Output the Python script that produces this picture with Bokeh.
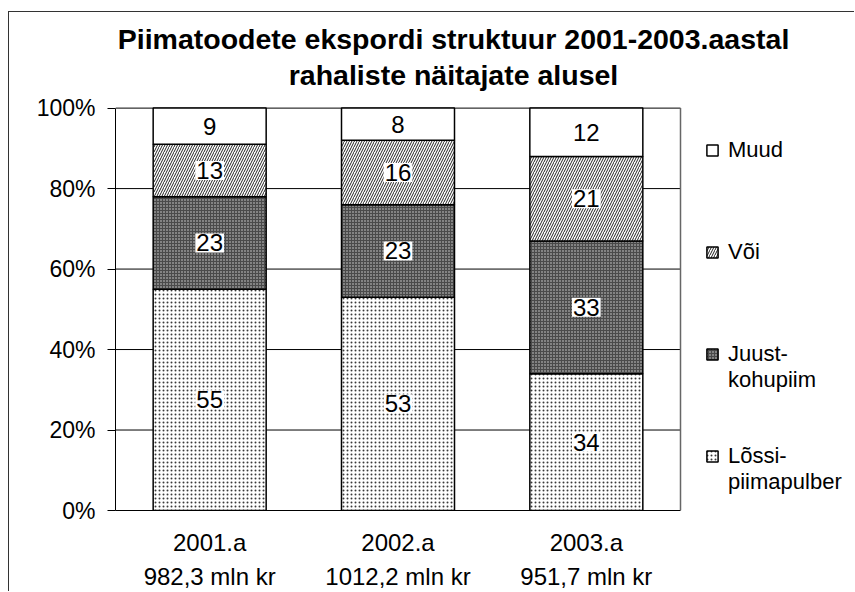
from bokeh.plotting import figure
from bokeh.models import (ColumnDataSource, Range1d, FixedTicker, PrintfTickFormatter,
                          Legend, LegendItem, Label, LinearAxis)
from bokeh.core.properties import value
from bokeh.embed import file_html
from bokeh.resources import INLINE

# ---- data ----
years = ["2001.a", "2002.a", "2003.a"]
totals = ["982,3 mln kr", "1012,2 mln kr", "951,7 mln kr"]
lossipiimapulber = [55, 53, 34]
juustkohupiim = [23, 23, 33]
voi = [13, 16, 21]
muud = [9, 8, 12]
series_labels = ["\nLõssi-\npiimapulber", "\nJuust-\nkohupiim", "Või", "Muud"]
y_ticks = [0, 20, 40, 60, 80, 100]
title_lines = ["Piimatoodete ekspordi struktuur 2001-2003.aastal",
               "rahaliste näitajate alusel"]

FONT = "Liberation Sans"

# ---- layout (pixels) ----
W, H = 846, 580
LEFT, BOTTOM = 106, 80
PLOT_W, PLOT_H = 565, 404          # visible plot area
FRAME_W, FRAME_H = W - LEFT, H - BOTTOM
n = len(years)
xc = [i + 0.5 for i in range(n)]

p = figure(x_range=Range1d(0, n * FRAME_W / PLOT_W),
           y_range=Range1d(0, 100 * FRAME_H / PLOT_H),
           width=W, height=H, output_backend="svg", toolbar_location=None,
           min_border_left=LEFT, min_border_right=0,
           min_border_top=0, min_border_bottom=BOTTOM,
           x_axis_type=None, y_axis_type=None)
p.styles = {"margin-left": "8px", "margin-top": "11px",
            "border-left": "1px solid #333", "border-top": "1px solid #333"}
p.outline_line_color = None
p.xgrid.visible = False
p.ygrid.visible = False

# gridlines and plot-area border (limited to the plot area)
p.segment(x0=0, x1=n, y0=y_ticks[1:], y1=y_ticks[1:], line_color="black", line_width=1)
p.segment(x0=n, x1=n, y0=0, y1=100, line_color="#666666", line_width=1.5)

src = ColumnDataSource(dict(x=xc, l=lossipiimapulber, j=juustkohupiim, v=voi, m=muud))
rs = p.vbar_stack(["l", "j", "v", "m"], x="x", width=0.6, source=src,
                  fill_color=["white", "#4a4a4a", "white", "white"],
                  hatch_pattern=["dot", "dot", "right_diagonal_line", " "],
                  hatch_color=["#3a3a3a", "#d8d8d8", "#222222", "black"],
                  hatch_scale=[4, 3, 5, 1],
                  hatch_weight=[1, 1, 1, 1],
                  line_color="black", line_width=1.5)

# data labels
lx, ly, lt = [], [], []
for i in range(n):
    base = 0
    for s in [lossipiimapulber, juustkohupiim, voi, muud]:
        lx.append(xc[i])
        ly.append(base + s[i] / 2)
        lt.append(str(s[i]))
        base += s[i]
lsrc = ColumnDataSource(dict(x=lx, y=ly, t=lt))
p.text(x="x", y="y", text="t", source=lsrc,
       text_font=value(FONT), text_font_size="24px",
       text_align="center", text_baseline="middle", text_color="black",
       background_fill_color="white", padding=1)

# y axis
ya = LinearAxis(ticker=FixedTicker(ticks=y_ticks),
                formatter=PrintfTickFormatter(format="%d%%"), bounds=(0, 100))
ya.major_label_text_font = FONT
ya.major_label_text_font_size = "23px"
ya.major_label_text_color = "black"
ya.major_tick_out = 8
ya.major_tick_in = 0
ya.minor_tick_line_color = None
ya.major_tick_line_color = "black"
ya.axis_line_color = "black"
ya.major_label_standoff = 12
p.add_layout(ya, "left")

# x axes (two label rows)
def make_x(labels, standoff, line_color):
    ax = LinearAxis(ticker=FixedTicker(ticks=xc), bounds=(0, n),
                    major_label_overrides={xc[i]: labels[i] for i in range(n)})
    ax.major_label_text_font = FONT
    ax.major_label_text_font_size = "24px"
    ax.major_label_text_color = "black"
    ax.major_tick_line_color = None
    ax.minor_tick_line_color = None
    ax.major_tick_out = 0
    ax.major_tick_in = 0
    ax.axis_line_color = line_color
    ax.major_label_standoff = standoff
    return ax

p.add_layout(make_x(years, 18, "black"), "below")
p.add_layout(make_x(totals, 4, None), "below")

# legend (inside the frame, right of the plot area)
order = [3, 2, 1, 0]
leg = Legend(items=[LegendItem(label=series_labels[i], renderers=[rs[i]]) for i in order],
             location=(590, 10), orientation="vertical",
             glyph_width=14, glyph_height=14, label_standoff=9,
             label_height=88, spacing=14,
             padding=0, margin=0, border_line_color=None,
             background_fill_alpha=0,
             label_text_font=FONT, label_text_font_size="22px",
             label_text_line_height=1.3,
             label_text_color="black")
p.add_layout(leg)

# title
for txt, yb in zip(title_lines, [472, 436]):
    p.add_layout(Label(x=338, y=yb, x_units="screen", y_units="screen",
                       text=txt, text_font=FONT, text_font_size="28.5px",
                       text_font_style="bold", text_align="center",
                       text_baseline="alphabetic", text_color="black"))

open("out.html", "w").write(file_html(p, INLINE))
